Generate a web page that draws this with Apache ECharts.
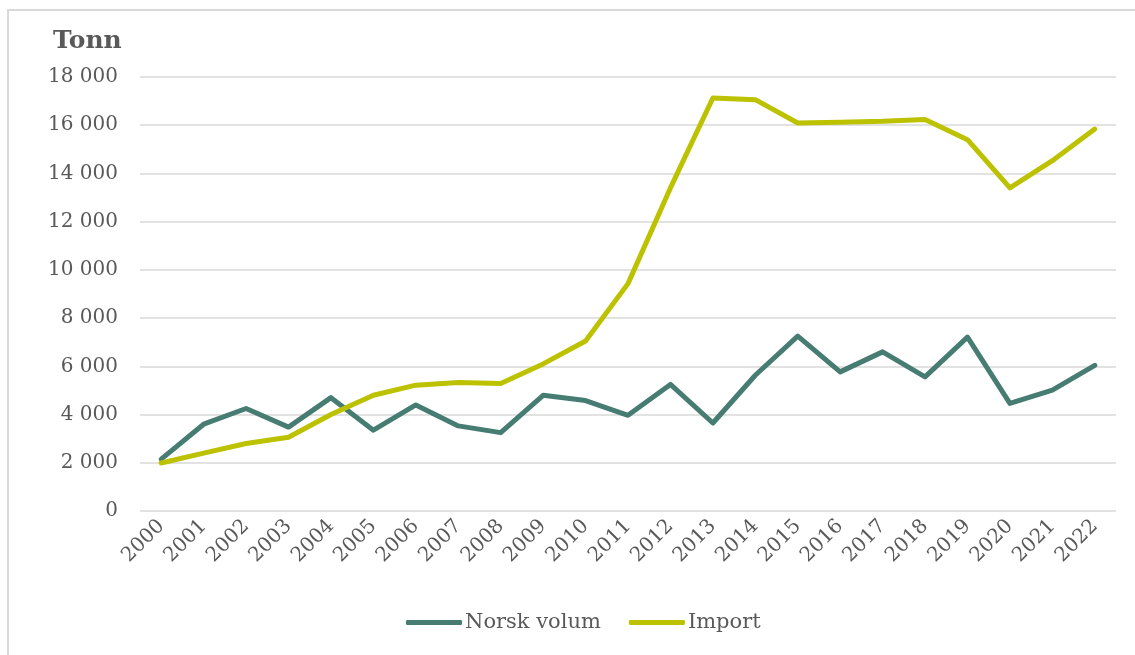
<!DOCTYPE html>
<html>
<head>
<meta charset="utf-8">
<script src="https://cdn.jsdelivr.net/npm/echarts@6/dist/echarts.min.js"></script>
<style>
    html, body { margin: 0; padding: 0; background: #fff; }
    #chart { width: 1135px; height: 655px; }
</style>
</head>
<body>
<div id="chart"></div>
<script>
// data
const years = ['2000', '2001', '2002', '2003', '2004', '2005', '2006', '2007', '2008', '2009', '2010',
    '2011', '2012', '2013', '2014', '2015', '2016', '2017', '2018', '2019', '2020', '2021', '2022'];
const norskVolum = [2150, 3600, 4250, 3480, 4700, 3350, 4400, 3530, 3250, 4800, 4580,
    3970, 5250, 3650, 5630, 7250, 5770, 6600, 5560, 7210, 4460, 5010, 6040];
const importVolum = [1990, 2400, 2800, 3060, 4000, 4800, 5220, 5330, 5290, 6100, 7050,
    9430, 13400, 17130, 17060, 16090, 16120, 16160, 16240, 15400, 13400, 14530, 15840];

const fontFamily = "Georgia, 'DejaVu Serif', serif";
const textColor = '#595959';

const chart = echarts.init(document.getElementById('chart'));

// tall skille med mellomrom: 18000 -> "18 000"
const fmt = (v) => String(v).replace(/\B(?=(\d{3})+(?!\d))/g, ' ');

const option = {
    backgroundColor: '#fff',
    animation: false,
    graphic: [{
        type: 'rect',
        shape: { x: 8, y: 10, width: 1140, height: 660 },
        style: { fill: 'none', stroke: '#D9D9D9', lineWidth: 2 }
    }],
    title: {
        text: 'Tonn',
        left: 48,
        top: 24,
        textStyle: {
            fontFamily: fontFamily,
            fontSize: 25,
            fontWeight: 'bold',
            color: textColor
        }
    },
    legend: {
        data: ['Norsk volum', 'Import'],
        bottom: 17,
        left: 401,
        icon: 'roundRect',
        itemWidth: 56,
        itemHeight: 5,
        itemGap: 28,
        textStyle: {
            fontFamily: fontFamily,
            fontSize: 21,
            color: textColor,
            padding: [0, 0, 0, -2]
        }
    },
    grid: {
        left: 140,
        right: 19,
        top: 77,
        bottom: 144,
        outerBoundsMode: 'none'
    },
    xAxis: {
        type: 'category',
        data: years,
        boundaryGap: true,
        axisLine: { show: false },
        axisTick: { show: false },
        axisLabel: {
            interval: 0,
            rotate: 45,
            margin: 12,
            fontFamily: fontFamily,
            fontSize: 20,
            color: textColor
        }
    },
    yAxis: {
        type: 'value',
        min: 0,
        max: 18000,
        interval: 2000,
        axisLine: { show: false },
        axisTick: { show: false },
        axisLabel: {
            margin: 22,
            fontFamily: fontFamily,
            fontSize: 20,
            color: textColor,
            formatter: fmt
        },
        splitLine: {
            lineStyle: { color: '#D9D9D9', width: 1.5 }
        }
    },
    series: [
        {
            name: 'Norsk volum',
            type: 'line',
            data: norskVolum,
            symbol: 'none',
            color: '#467C72',
            lineStyle: { width: 5, color: '#467C72', join: 'round', cap: 'round' }
        },
        {
            name: 'Import',
            type: 'line',
            data: importVolum,
            symbol: 'none',
            color: '#BCC200',
            lineStyle: { width: 5, color: '#BCC200', join: 'round', cap: 'round' }
        }
    ]
};

chart.setOption(option);
window.addEventListener('resize', () => chart.resize());
</script>
</body>
</html>
